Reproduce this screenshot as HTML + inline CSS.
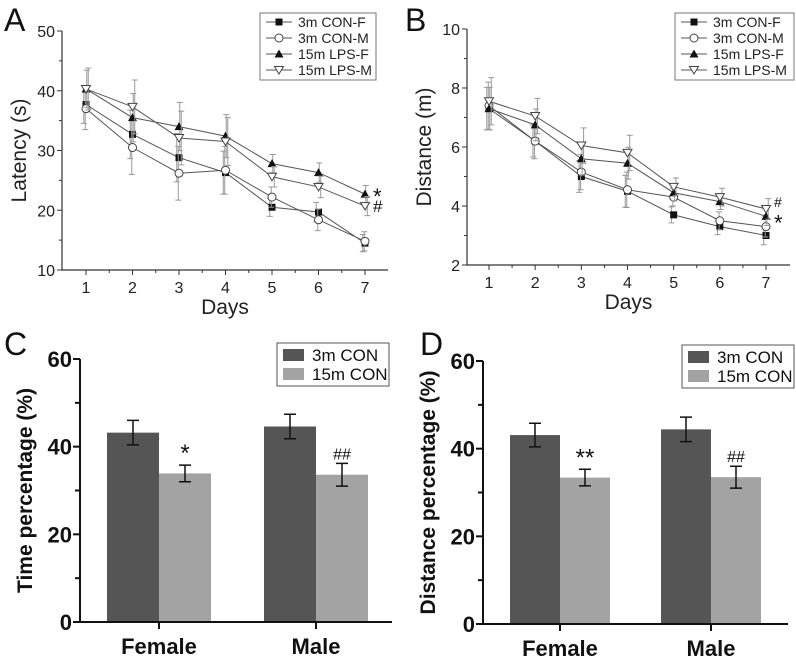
<!DOCTYPE html>
<html><head><meta charset="utf-8"><style>
body{margin:0;background:#fff;width:796px;height:659px;overflow:hidden}
svg{display:block;font-family:"Liberation Sans",Arial,sans-serif}
</style></head><body>
<svg id="s" width="796" height="659" viewBox="0 0 796 659"></svg>
<script>
const days=[1,2,3,4,5,6,7];
const seriesNames=["3m CON-F","3m CON-M","15m LPS-F","15m LPS-M"];
const latConF=[37.7,32.7,28.8,26.3,20.5,19.7,14.5];
const latConM=[37.0,30.5,26.2,26.7,22.2,18.4,14.8];
const latLpsF=[40.3,35.5,34.0,32.4,27.8,26.3,22.7];
const latLpsM=[40.3,37.3,32.1,31.5,25.6,23.9,20.7];
const latErr=[3.5,4.5,4.5,4.0,1.7,1.8,1.6];
const distConF=[7.3,6.2,5.0,4.5,3.7,3.3,3.0];
const distConM=[7.4,6.2,5.15,4.55,4.3,3.5,3.3];
const distLpsF=[7.3,6.75,5.6,5.45,4.45,4.15,3.65];
const distLpsM=[7.55,7.05,6.05,5.8,4.65,4.3,3.9];
const distErr=[0.8,0.6,0.6,0.6,0.3,0.3,0.35];
const latTicks=[10,20,30,40,50];
const distTicks=[2,4,6,8,10];
const groups=["Female","Male"];
const barLegend=["3m  CON","15m CON"];
const timeVals3m=[43.2,44.6], timeVals15m=[33.9,33.6];
const timeErr3m=[2.8,2.8], timeErr15m=[1.9,2.6];
const distPct3m=[43.1,44.4], distPct15m=[33.4,33.5];
const distPctErr3m=[2.7,2.8], distPctErr15m=[1.9,2.5];
const barTicks=[0,20,40,60];
const sigC=["*","##"], sigD=["**","##"];

const S=document.getElementById('s');const NS="http://www.w3.org/2000/svg";
function el(t,a,txt,parent){const e=document.createElementNS(NS,t);for(const k in a)e.setAttribute(k,a[k]);if(txt!==undefined)e.textContent=txt;(parent||S).appendChild(e);return e;}

function lineChart(o){
  const g=el('g',{});
  
  
  const xs=v=>o.x0+(v-1)*(o.x1-o.x0)/6;
  const ys=v=>o.yb+(v-o.ymin)*(o.yt-o.yb)/(o.ymax-o.ymin);
  const ax=el('path',{d:`M${o.ax} ${o.yt}V${o.yb}H${o.axEnd}`,stroke:'#333',fill:'none','stroke-width':1.2},undefined,g);
  
  o.ticks.forEach((t,i)=>{const y=ys(t);el('line',{x1:o.ax-5,x2:o.ax,y1:y,y2:y,stroke:'#333'},undefined,g);
    if(i<o.ticks.length-1){const ym=ys((t+o.ticks[i+1])/2);el('line',{x1:o.ax-3,x2:o.ax,y1:ym,y2:ym,stroke:'#333'},undefined,g);}
    const tl=el('text',{x:o.ax-7,y:y+6,'text-anchor':'end','font-size':16,fill:'#222'},t,g);
    });
  days.forEach((d,i)=>{const x=xs(d);el('line',{x1:x,x2:x,y1:o.yb,y2:o.yb+5,stroke:'#333'},undefined,g);
    if(i<6){el('line',{x1:x+(xs(2)-xs(1))/2,x2:x+(xs(2)-xs(1))/2,y1:o.yb,y2:o.yb+3,stroke:'#333'},undefined,g);}
    const tl=el('text',{x:x,y:o.yb+23,'text-anchor':'middle','font-size':16,fill:'#222'},d,g);
    });
  const xt=el('text',{x:(o.ax+o.axEnd)/2,y:o.yb+44,'text-anchor':'middle','font-size':21,fill:'#222'},'Days',g);
  
  const cy=(o.yt+o.yb)/2;
  const yt=el('text',{x:o.ax-36,y:cy,'text-anchor':'middle','font-size':21,fill:'#222',transform:`rotate(-90 ${o.ax-36} ${cy})`},o.ytitle,g);
  
  const pl=el('text',{x:o.px,y:31,'font-size':32,fill:'#111'},o.letter,g);
  
  o.series.forEach((sv,si)=>{
    const sg=el('g',{},undefined,g);
    
    
    days.forEach((d,i)=>{const x=xs(d)+(si-1.5)*1.5;const e=o.err[i]*(si%2?1:0.9);
      el('path',{d:`M${x} ${ys(sv[i]+e)}V${ys(sv[i]-e)}M${x-3} ${ys(sv[i]+e)}h6M${x-3} ${ys(sv[i]-e)}h6`,stroke:'#999','stroke-width':1},undefined,sg);});
    el('polyline',{points:days.map((d,i)=>xs(d)+','+ys(sv[i])).join(' '),fill:'none',stroke:'#555','stroke-width':1},undefined,sg);
    days.forEach((d,i)=>marker(si,xs(d),ys(sv[i]),sg));
  });
  o.sig.forEach(s=>{const t=el('text',{x:xs(7)+8,y:ys(s.v)+s.dy,'font-size':s.fs,fill:'#111'},s.t,g);
    });
  const lg=el('g',{},undefined,g);
  el('rect',{x:o.lx,y:13,width:o.lw,height:67,fill:'#fff',stroke:'#777'},undefined,lg);
  seriesNames.forEach((n,i)=>{const y=22+i*16;
    el('line',{x1:o.lx+6,x2:o.lx+32,y1:y,y2:y,stroke:'#555'},undefined,lg);marker(i,o.lx+19,y,lg);
    const t=el('text',{x:o.lx+38,y:y+5,'font-size':14,fill:'#222'},n,lg);
    });
}
function marker(si,x,y,p){
  if(si==0)el('rect',{x:x-3.5,y:y-3.5,width:7,height:7,fill:'#111'},undefined,p);
  else if(si==1)el('circle',{cx:x,cy:y,r:4,fill:'#fff',stroke:'#444'},undefined,p);
  else if(si==2)el('path',{d:`M${x} ${y-4.5}L${x+4.5} ${y+3.5}L${x-4.5} ${y+3.5}Z`,fill:'#111'},undefined,p);
  else el('path',{d:`M${x} ${y+4}L${x+4.5} ${y-3.5}L${x-4.5} ${y-3.5}Z`,fill:'#fff',stroke:'#444'},undefined,p);
}
lineChart({name:'latency-chart',letter:'A',px:4,ax:62,axEnd:388,x0:86,x1:365,yt:31,yb:270,ymin:10,ymax:50,ticks:latTicks,
  ytitle:'Latency (s)',series:[latConF,latConM,latLpsF,latLpsM],err:latErr,lx:260,lw:116,
  sig:[{t:'*',v:latLpsF[6],dy:10,fs:22},{t:'#',v:latLpsM[6],dy:6,fs:17}]});
lineChart({name:'distance-chart',letter:'B',px:405,ax:467,axEnd:790,x0:489,x1:766,yt:29,yb:265,ymin:2,ymax:10,ticks:distTicks,
  ytitle:'Distance (m)',series:[distConF,distConM,distLpsF,distLpsM],err:distErr,lx:675,lw:119,
  sig:[{t:'#',v:distLpsM[6],dy:-2,fs:14},{t:'*',v:distLpsF[6],dy:14,fs:22}]});

function barChart(o){
  const g=el('g',{});
  
  
  const ys=v=>o.yb+v*(o.yt-o.yb)/60;
  const pl=el('text',{x:o.px,y:355,'font-size':32,fill:'#111'},o.letter,g);
  
  groups.forEach((gname,i)=>{const c=o.centers[i];
    [[o.v1,o.e1,'#555',-1],[o.v2,o.e2,'#a3a3a3',0]].forEach(([v,e,col,off],k)=>{
      const r=el('rect',{x:c+off*o.bw,y:ys(v[i]),width:o.bw,height:ys(0)-ys(v[i]),fill:col},undefined,g);
      
      
      const x=c+off*o.bw+o.bw/2;
      el('path',{d:`M${x} ${ys(v[i]+e[i])}V${ys(v[i]-e[i])}M${x-6} ${ys(v[i]+e[i])}h12M${x-6} ${ys(v[i]-e[i])}h12`,stroke:'#111','stroke-width':1.5,fill:'none'},undefined,g);
    });
    const x2=c+o.bw/2;
    const st=el('text',{x:x2,y:ys(o.v2[i]+o.e2[i])-4,'text-anchor':'middle','font-size':o.sig[i].includes('#')?16:24,fill:'#111'},o.sig[i],g);
    
    el('line',{x1:c,x2:c,y1:ys(0),y2:ys(0)+7,stroke:'#111','stroke-width':2},undefined,g);
    const gl=el('text',{x:c,y:ys(0)+32,'text-anchor':'middle','font-size':22,'font-weight':'bold',fill:'#111'},gname,g);
    
  });
  el('path',{d:`M${o.ax} ${o.yt}V${o.yb}H${o.axEnd}`,stroke:'#111','stroke-width':2,fill:'none'},undefined,g);
  for(let t=0;t<=60;t+=10){const y=ys(t);el('line',{x1:o.ax-(t%20?5:7),x2:o.ax,y1:y,y2:y,stroke:'#111','stroke-width':2},undefined,g);}
  barTicks.forEach(t=>{const tl=el('text',{x:o.ax-8,y:ys(t)+8,'text-anchor':'end','font-size':22,'font-weight':'bold',fill:'#111'},t,g);
    });
  const cy=(o.yt+o.yb)/2;
  const yt=el('text',{x:o.ax-48,y:cy,'text-anchor':'middle','font-size':21,'font-weight':'bold',fill:'#111',transform:`rotate(-90 ${o.ax-48} ${cy})`,'xml:space':'preserve'},o.ytitle,g);
  
  const lg=el('g',{},undefined,g);
  el('rect',{x:o.lx,y:o.ly,width:112,height:43,fill:'#fff',stroke:'#555'},undefined,lg);
  barLegend.forEach((n,i)=>{const y=o.ly+12+i*19;
    el('rect',{x:o.lx+6,y:y-6,width:21,height:12,fill:i?'#a3a3a3':'#555'},undefined,lg);
    const t=el('text',{x:o.lx+35,y:y+6,'font-size':17,fill:'#111','xml:space':'preserve'},n,lg);
    });
}
barChart({name:'time-percentage-chart',letter:'C',px:4,ax:80,axEnd:392,yt:359,yb:622,centers:[159,316],bw:52,
  v1:timeVals3m,e1:timeErr3m,v2:timeVals15m,e2:timeErr15m,sig:sigC,ytitle:'Time percentage  (%)',lx:277,ly:343});
barChart({name:'distance-percentage-chart',letter:'D',px:420,ax:483,axEnd:788,yt:361,yb:624,centers:[560,711],bw:50,
  v1:distPct3m,e1:distPctErr3m,v2:distPct15m,e2:distPctErr15m,sig:sigD,ytitle:'Distance percentage  (%)',lx:682,ly:345});
</script>
</body></html>
